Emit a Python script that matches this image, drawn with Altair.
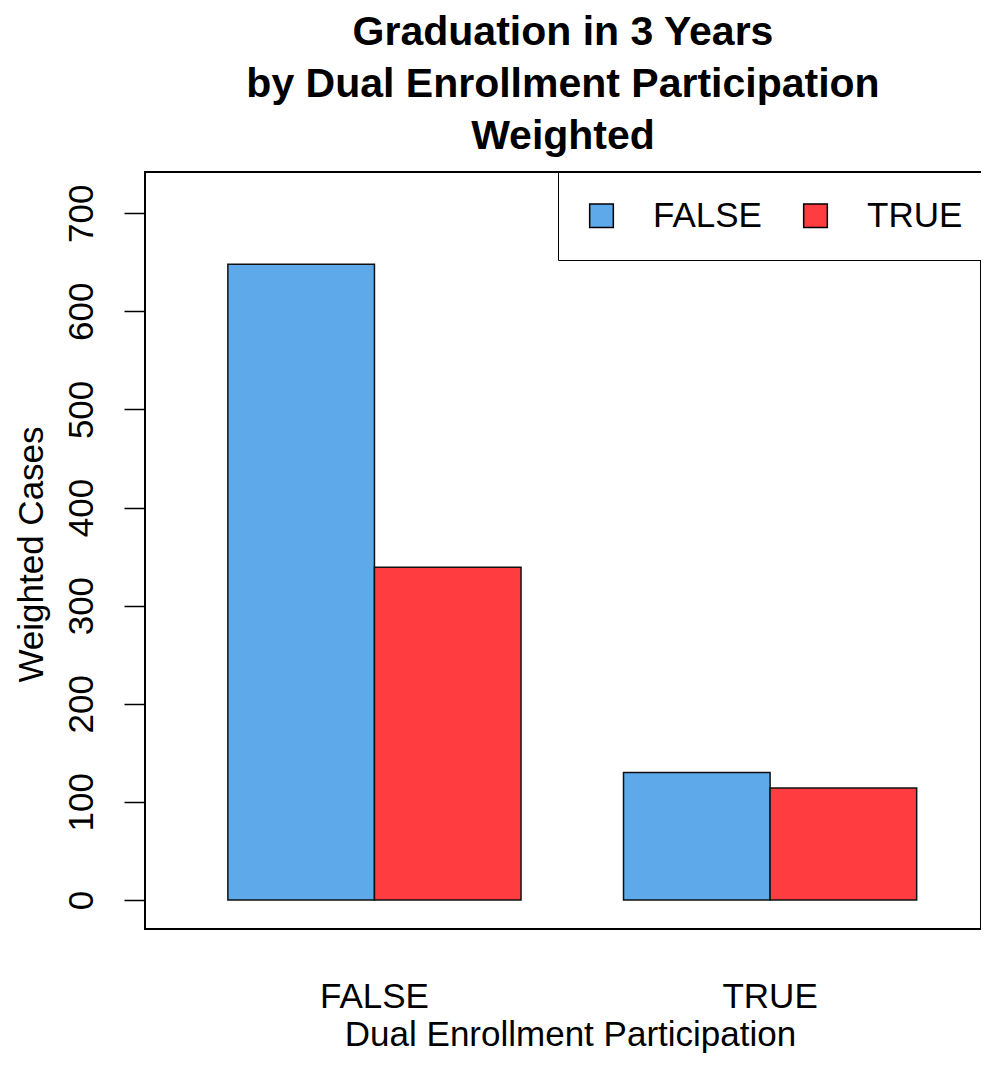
import altair as alt
import pandas as pd

# Data
groups = ["FALSE", "FALSE", "TRUE", "TRUE"]          # Dual Enrollment Participation
series = ["FALSE", "TRUE", "FALSE", "TRUE"]          # Graduation in 3 years
values = [648, 339, 130, 114]                        # Weighted cases
series_domain = ["FALSE", "TRUE"]
series_colors = ["#5DA9E9", "#FF3C3F"]
y_ticks = [0, 100, 200, 300, 400, 500, 600, 700]
title_lines = ["Graduation in 3 Years", "by Dual Enrollment Participation", "Weighted"]

df = pd.DataFrame({"group": groups, "graduated": series, "cases": values})

FONT = "Liberation Sans"

chart = (
    alt.Chart(df)
    .mark_bar(stroke="#111111", strokeWidth=1.5)
    .encode(
        x=alt.X(
            "group:N",
            sort=["FALSE", "TRUE"],
            scale=alt.Scale(paddingInner=0.259, paddingOuter=0.186, align=0.563),
            axis=alt.Axis(
                title="Dual Enrollment Participation",
                labelAngle=0,
                ticks=False,
                tickSize=0,
                domain=False,
                labelPadding=78,
                labelBaseline="alphabetic",
                labelFontSize=35,
                labelFont=FONT,
                labelColor="#000000",
                titleFont=FONT,
                titleFontSize=35,
                titleFontWeight="normal",
                titleColor="#000000",
                titleX=425,
                titleY=116,
                titleAlign="center",
                titleBaseline="alphabetic",
            ),
        ),
        xOffset=alt.XOffset(
            "graduated:N",
            sort=series_domain,
            scale=alt.Scale(paddingInner=0, paddingOuter=0),
        ),
        y=alt.Y(
            "cases:Q",
            scale=alt.Scale(domain=[-29.6, 742], nice=False, zero=False),
            axis=alt.Axis(
                title="Weighted Cases",
                values=y_ticks,
                grid=False,
                domain=False,
                tickSize=21,
                tickWidth=1.5,
                tickColor="#000000",
                labelAngle=270,
                labelAlign="center",
                labelBaseline="alphabetic",
                labelPadding=32,
                labelFontSize=35,
                labelFont=FONT,
                labelColor="#000000",
                titleFont=FONT,
                titleFontSize=35,
                titleFontWeight="normal",
                titleColor="#000000",
                titleAngle=270,
                titleX=-103,
                titleY=382,
                titleAlign="center",
                titleBaseline="alphabetic",
            ),
        ),
        y2=alt.datum(0),
        color=alt.Color(
            "graduated:N",
            scale=alt.Scale(domain=series_domain, range=series_colors),
            legend=alt.Legend(
                title=None,
                orient="none",
                legendX=413,
                legendY=0,
                direction="horizontal",
                strokeColor="#000000",
                fillColor="#FFFFFF",
                padding=26,
                symbolType="square",
                symbolSize=560,
                symbolStrokeColor="#000000",
                symbolStrokeWidth=1.5,
                symbolOpacity=1,
                labelFont=FONT,
                labelFontSize=35,
                labelColor="#000000",
                labelOffset=34,
                columnPadding=36,
            ),
        ),
    )
    .properties(
        width=836,
        height=757,
        title=alt.TitleParams(
            text=title_lines,
            font=FONT,
            fontSize=41,
            fontWeight="bold",
            lineHeight=52,
            anchor="middle",
            color="#000000",
            offset=14,
        ),
        autosize=alt.AutoSizeParams(type="none"),
        padding={"left": 137, "top": 164, "right": 0, "bottom": 125},
        background="#FFFFFF",
    )
    .configure_view(stroke="#000000", strokeWidth=2)
)

chart.save("out.html", embed_options={"renderer": "svg", "actions": False})
